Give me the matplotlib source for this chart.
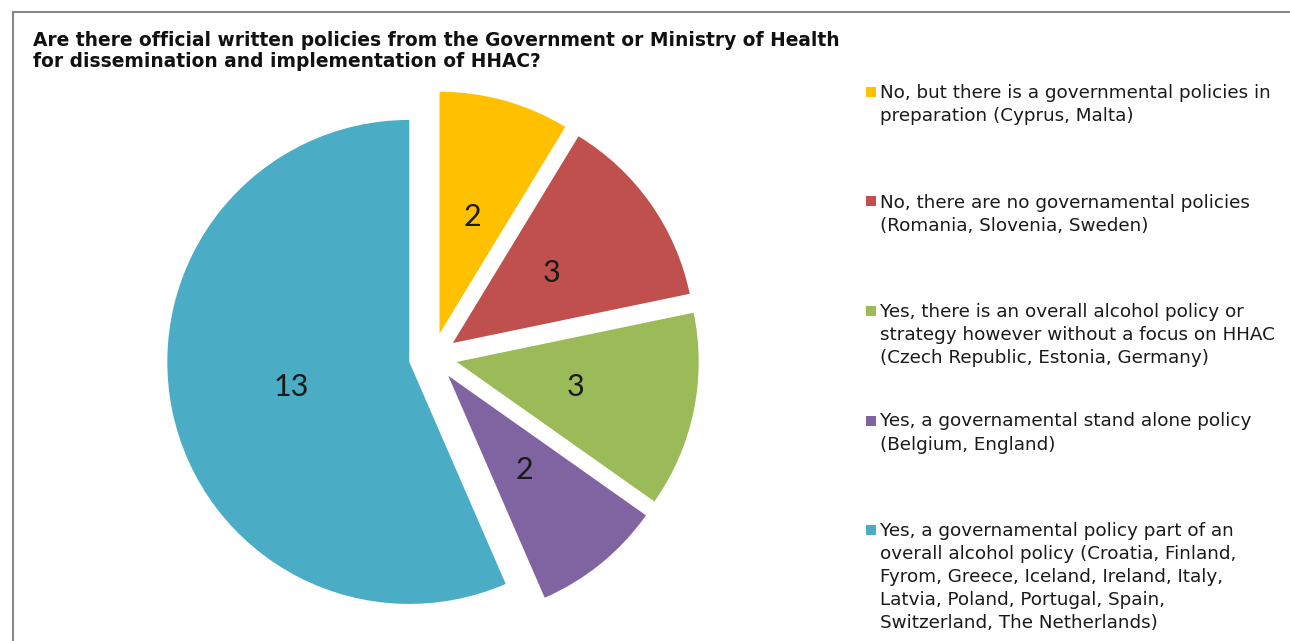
import matplotlib.pyplot as plt
from matplotlib.lines import Line2D
from matplotlib.patches import Rectangle

# data
counts = [2, 3, 3, 2, 13]
colors = ['#FFC000', '#C0504D', '#9BBB59', '#8064A2', '#4BACC6']
labels = [
    "No, but there is a governmental policies in\npreparation (Cyprus, Malta)",
    "No, there are no governamental policies\n(Romania, Slovenia, Sweden)",
    "Yes, there is an overall alcohol policy or\nstrategy however without a focus on HHAC\n(Czech Republic, Estonia, Germany)",
    "Yes, a governamental stand alone policy\n(Belgium, England)",
    "Yes, a governamental policy part of an\noverall alcohol policy (Croatia, Finland,\nFyrom, Greece, Iceland, Ireland, Italy,\nLatvia, Poland, Portugal, Spain,\nSwitzerland, The Netherlands)",
]
title = ("Are there official written policies from the Government or Ministry of Health\n"
         "for dissemination and implementation of HHAC?")

W, H = 1290, 641
fig = plt.figure(figsize=(W / 100, H / 100), dpi=100)
ax = fig.add_axes([0, 0, 1, 1])

# pie centre and radius in pixels
cx, cy, r = 433, 357, 242
total = sum(counts)
ax.pie(counts, colors=colors, startangle=90, counterclock=False,
       explode=[0.1] * len(counts),
       autopct=lambda p: '%d' % round(p * total / 100), pctdistance=0.5,
       textprops=dict(fontsize=22, family='Lato', color='#1a1a1a'),
       wedgeprops=dict(linewidth=0))
ax.set_xlim(-cx / r, (W - cx) / r)
ax.set_ylim(-(H - cy) / r, cy / r)
ax.set_aspect('auto')
ax.axis('off')

# frame lines
fig.add_artist(Line2D([13 / W, 1], [1 - 12 / H, 1 - 12 / H], color='#888888', lw=1.5))
fig.add_artist(Line2D([13 / W, 13 / W], [0, 1 - 12 / H], color='#888888', lw=1.5))

fig.text(33 / W, 1 - 31 / H, title, fontsize=13.4, fontweight='bold',
         family='DejaVu Sans', va='top', ha='left', linespacing=1.15,
         color='#111111')

# legend
y0, step = 92, 109.5
for i, (lab, col) in enumerate(zip(labels, colors)):
    yc = y0 + i * step
    fig.add_artist(Rectangle((866 / W, 1 - (yc + 5) / H), 10 / W, 10 / H,
                             transform=fig.transFigure, color=col, lw=0))
    fig.text(880 / W, 1 - (yc - 8) / H, lab, fontsize=13.2, family='DejaVu Sans',
             va='top', ha='left', linespacing=1.36, color='#1a1a1a')

fig.savefig('out.png', dpi=100)
